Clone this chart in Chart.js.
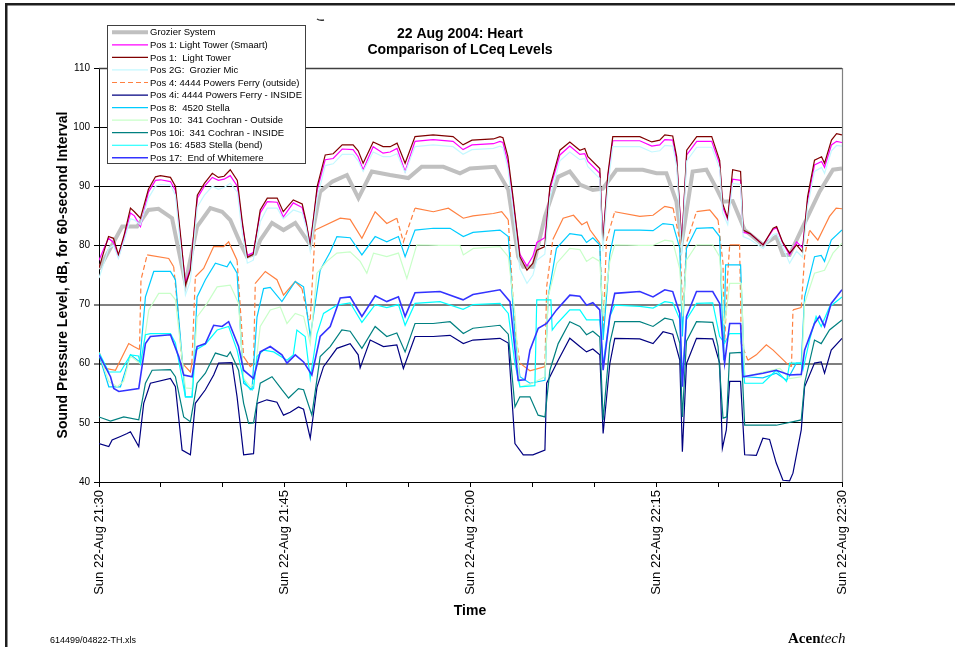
<!DOCTYPE html>
<html><head><meta charset="utf-8">
<script src="https://cdn.jsdelivr.net/npm/chart.js@4.4.0/dist/chart.umd.min.js"></script>
<style>html,body{margin:0;padding:0;background:#fff;}canvas{display:block;}</style>
</head><body>
<canvas id="c" width="955" height="647"></canvas>
<script>
// ---------- tick labels ----------
const xTickLabels = ['Sun 22-Aug 21:30','Sun 22-Aug 21:45','Sun 22-Aug 22:00','Sun 22-Aug 22:15','Sun 22-Aug 22:30'];
const yMin = 40, yMax = 110, yStep = 10;

// ---------- series names ----------
const seriesNames = [
  'Grozier System',
  'Pos 1: Light Tower (Smaart)',
  'Pos 1:  Light Tower',
  'Pos 2G:  Grozier Mic',
  'Pos 4: 4444 Powers Ferry (outside)',
  'Pos 4i: 4444 Powers Ferry - INSIDE',
  'Pos 8:  4520 Stella',
  'Pos 10:  341 Cochran - Outside',
  'Pos 10i:  341 Cochran - INSIDE',
  'Pos 16: 4583 Stella (bend)',
  'Pos 17:  End of Whitemere'
];

// ---------- data (time = minutes after 21:30, level = dB) ----------
const tGrozier = [0,1.87,3.08,3.99,4.8,5.9,6.98,7.92,8.99,9.94,10.6,11.41,11.95,12.62,13.02,13.97,14.9,15.85,17.06,17.86,18.85,20.02,20.95,22.03,23.51,24.98,26.06,27.81,29.15,29.96,31.98,33.05,33.85,34.26,35.06,36.01,37.08,38.02,38.83,39.88,40.69,41.79,43.91,45.02,45.82,46.63,47.06,47.94,49.05,49.85,50.39,51.17,52.14,53.61,54.69,55.23,55.77,56.71,58.19,59.27,60];
const vGrozier = [76,83.2,83.2,86,86.2,84.6,73.6,83.2,86.3,85.7,84.3,80.4,78.1,78.6,80.9,83.8,82.6,83.8,80.1,89.1,90.8,91.9,88,92.5,91.9,91.4,93.3,93.3,92.2,93,93.3,89.4,78.1,76.4,76.4,84.9,91.6,92.5,90.3,89.4,89.6,92.8,92.8,92.2,92.2,87.4,80.5,92.5,92.8,89.7,87.4,87.5,82.6,80.1,81.5,78.4,78.4,82.6,89.1,92.8,93];

const tTower = [0,0.4,0.77,1.17,1.57,2.06,2.54,2.86,3.35,3.99,4.56,4.96,5.77,6.17,6.57,6.98,7.38,7.94,8.51,9.15,9.64,10.1,10.6,11.17,11.57,11.98,12.46,13.02,13.59,14.39,14.88,15.69,16.41,16.73,17.06,17.62,18.27,18.91,19.64,20.52,20.93,21.33,22.14,22.94,23.51,24.07,24.72,25.52,26.98,28.59,29.4,30.12,31.85,32.38,32.62,33.02,33.43,33.99,34.56,35.04,35.36,36.0,36.41,37.22,38.02,38.83,39.23,39.48,40.44,40.69,41.09,41.49,43.67,44.64,45.28,45.69,46.33,46.65,47.06,47.46,48.27,49.48,50.12,50.36,50.77,51.17,51.81,52.02,52.58,53.63,54.44,54.72,55.2,55.77,56.33,56.81,57.22,57.78,58.35,58.59,59.15,59.56,60];
const vSmaart = [77.5,79.5,81.2,80.5,78, 81.5,85.5,85,83.2,89, 91,91.1,90.8,89.3,81.5, 73.8,76,88,90,91.5, 91,91.2,91.8,90,83.5, 78.3,78.8,85.5,87.4,87.3, 84.8,87.2,86.4,83.6,80.2, 89.4,94.5,94.7,96.3,96.2, 95,92.8,96.7,95.6,95.8, 96.4,92.5,97.6,97.9,97.6, 96.2,97,97.2,97.6,97.4, 94,87.5,78.5,76.5,78.2, 80.5,81.3,89.5,95.3,96.8, 95.4,95.5,94.2,92.2,80.6, 91.5,97.7,97.7,96.8,97, 97.9,97.8,94.3,80.3,95.3, 97.6,97.6,93.8,86.5,84.4, 91.2,91,82.2,82,80.1, 82.7,83,80.5,78.4,80.6, 79.6,87.5,93.6,94.2,93.2, 97,97.6,97.4];
const vTower = [76.2,79,81.5,81.2,78.4, 82,86.3,85.7,84.6,89.5, 91.6,91.8,91.5,90,82, 73.3,75.8,88.5,90.5,92.2, 91.5,91.7,92.8,91,84, 78,78.5,86,88,88, 85.7,87.7,87,84,79.8, 90,95.3,95.5,97,97, 96,93.9,97.5,96.7,96.7, 97.3,93.9,98.4,98.7,98.4, 97,97.8,98,98.4,98.2, 95,88.2,78.1,75.8,77, 79.2,79.8,89.9,96.1,97.5, 96.1,96.4,95,93,80.4, 92,98.4,98.4,97.5,97.8, 98.7,98.5,95,79.8,96.1, 98.4,98.4,94.4,87.1,84.6, 92.8,92.5,82.6,82,80.1, 82.9,83.2,80.6,78.7,80.1, 78.9,88.2,94.4,95,93.9, 97.8,98.9,98.7];
const vGrozierMic = [74.5,77,79.5,80,77.8, 81,84.5,84.3,83.5,88, 90,90.3,90.2,88.5,80, 71.6,74,86.5,88.5,90, 89.5,89.8,90.5,89,82, 77,77.5,84,86.3,86.3, 84.5,86,85.5,83,79, 88,93.5,93.8,95.4,95.4, 94.3,92.5,95.8,95,95, 95.5,92.3,96.7,97,96.7, 95.4,96.2,96.4,96.8,96.5, 93,86,76,73.6,75, 77.5,78.5,88,94.3,95.8, 94.5,94.7,93.3,91.3,79, 90,96.7,96.7,95.8,96, 96.9,96.8,93.3,78.5,94.3, 96.6,96.6,93,85.5,83.5, 90.5,90.3,81.5,81,79.5, 81.8,82,79.8,77,79, 78,86.5,92.5,93.2,92.2, 96,96.9,96.8];

const tPos4 = [0,0.52,1.33,2.4,2.81,3.27,3.39,3.89,5.63,6.03,6.33,6.71,7.38,7.5,7.78,8.45,9.26,10.06,10.47,11.15,11.68,12.22,12.48,12.62,13.43,14.37,14.9,15.85,16.39,16.92,17.06,17.46,19.48,20.28,21.23,22.3,23.24,24.05,24.58,25.52,27,28.21,29.42,30.2,31.84,32.52,33.05,33.59,33.99,34.8,36.01,36.15,36.65,37.48,38.32,38.99,39.4,39.66,40.44,40.71,40.98,41.65,43.67,44.74,45.69,46.36,46.9,47.16,47.44,48.25,49.32,49.99,50.39,50.52,50.77,50.93,51.73,51.87,52.4,53.08,53.89,54.44,54.98,55.52,55.92,56.04,56.71,56.98,57.38,58.05,58.59,58.99,59.53,60];
const vPos4 = [62,59.2,58.9,63.4,62.9,62.4,74.2,78.4,77.8,76.4,70,60.1,58.6,60,74.7,76.1,79.8,79.8,80.6,77.5,61.2,59.5,60,73.6,75.6,74.2,71.6,73.9,72.7,67.4,67.5,82.6,84.6,84.4,81.2,85.7,83.7,84.6,80.6,86.3,85.7,86.3,84.6,85,85.4,85.7,84.3,65.7,60.1,58.8,59.5,73,81,84.6,85.1,83.5,84,82.6,80.4,65.7,80.9,85.7,84.9,85.1,86.6,86.3,80.9,68,80.4,85.7,86,84.3,77,63.4,75,80.1,80.1,63.4,60.6,61.5,63.2,62.3,61.2,60.1,59.5,69.1,69.5,78.1,82.6,80.9,83.2,84.9,86.3,86.2];

const tPos4i = [0,0.79,1.06,1.73,2.27,2.54,3.21,3.61,4.15,5.77,6.17,6.71,7.38,7.78,8.59,9.26,9.66,10.74,11.15,11.68,12.48,12.76,13.56,14.37,14.9,15.44,16.11,16.52,17.06,17.6,18.13,19.21,20.28,20.93,21.09,21.9,22.97,24.05,24.58,25.52,26.98,28.35,29.42,30.2,32.38,33.05,33.59,34.26,35.04,36.01,36.15,37.08,38.02,38.83,39.37,39.88,40.44,40.71,41.25,41.65,43.67,44.74,45.55,46.33,46.9,47.11,47.44,48.25,49.56,50.12,50.34,50.66,50.93,51.81,52.14,53.08,53.61,54.15,54.69,55.23,55.77,56.04,56.71,56.98,57.78,58.32,58.59,59.13,60];
const vPos4i = [46.5,46,47.1,47.7,48.2,48.5,46,53.3,56.7,57.5,56.1,45.4,44.6,53.3,55.6,58.1,60.1,60.2,54.4,44.6,44.8,53.3,53.9,53.5,51.3,51.8,52.7,52.3,47.4,56,59.5,62.6,63.4,61.5,59.3,64,62.9,63.2,59.2,64.6,64.6,64.8,63.4,64,64.3,63.5,46.5,44.6,44.6,45.4,56.7,60.6,64.3,62.9,62,62.5,61.5,48.2,60,64.3,64.2,63.4,65.4,65,60.6,45.1,60,64.3,64.2,60.1,45.7,48.8,57,57,44.6,44.5,47.4,47.2,43.2,40.3,40.2,41.5,48.8,56.1,60.1,60.3,58.4,62.3,64.3];

const tPos8 = [0,0.79,1.73,2.54,3.29,3.75,4.42,5.77,6.17,6.98,7.52,7.92,8.59,9.4,10.34,10.6,11.15,11.68,12.35,12.76,13.29,13.83,14.77,15.85,16.52,17.06,17.86,18.67,19.21,20.28,21.23,22.3,23.24,24.18,24.72,25.52,27,28.35,29.42,30.2,32.38,33.05,33.59,33.99,34.8,36.01,36.27,36.94,38.02,38.97,39.37,39.88,40.44,40.71,41.25,41.65,43.67,44.74,45.54,46.36,46.9,47.11,47.44,48.25,49.56,50.12,50.44,50.6,51.81,52.14,53.61,54.69,55.52,55.78,56.31,56.71,56.98,57.78,58.32,58.59,59.13,60];
const vPos8 = [61.5,56.1,56.1,61.5,60.3,71.3,75.6,75.6,74.2,54.4,54.4,71.3,74.2,77,76.4,77.3,75.3,56.7,55.6,67.9,72.7,72.9,70.5,73.9,73,64.6,75.8,78.9,81.5,81.3,78.4,81.5,80.6,81.5,78.1,82.6,82.9,82.9,81.5,82.2,82.6,81.5,64.6,57.8,56.7,57.2,71.3,79.5,82,81.7,80.5,81.3,80.1,64,78.5,82.6,82.6,82.5,83.7,83.5,79.5,64.6,79.5,82.9,83,81.5,60.6,76.7,76.7,57.8,57.6,58.4,57.2,58,60.1,60.1,71.3,78.1,78.3,77.3,80.9,82.6];

const tPos10 = [0,0.79,1.47,1.98,2.54,3.29,3.39,4.02,4.82,5.77,6.17,6.98,7.52,7.92,8.73,9.54,10.6,11.27,11.68,12.22,12.48,13.02,13.83,14.64,15.18,15.85,16.52,17.06,17.6,18.4,19.21,20.28,21.09,21.63,22.17,23.24,24.18,24.86,25.66,27.54,29.15,29.42,30.23,32.38,33.05,33.59,33.99,34.8,36.01,36.27,36.97,38.02,38.83,39.37,39.88,40.44,40.71,41.25,41.65,43.67,44.72,45.69,46.33,46.9,47.14,47.44,48.25,49.56,50.12,50.52,50.93,51.87,52.14,53.61,54.98,55.78,56.71,56.98,57.78,58.59,59.27,60];
const vPos10 = [61.7,57,56.1,57,61.3,60.1,60,69.1,71.9,71.9,70.8,55.9,55.8,67.9,70.2,73,73.3,70.2,57.5,56.1,56.5,66.3,69.1,69.6,66.8,68.5,68,63.4,75.3,77.3,78.7,78.9,77.3,75.3,78.7,78.1,78.7,74.4,80.1,80,80,78.4,79.5,79.8,78.1,68.5,56.1,56.5,57.8,71.3,77,79.5,79.3,77.3,78,77.3,68,77.3,80.1,80,80,80.9,80.7,76,68,77.5,80.1,80.1,78.1,66.5,73.6,73.6,57.8,58.6,59.2,57.5,57.8,70.2,75.3,75.8,78.7,80.4];

const tPos10i = [0,0.93,2,3.21,3.75,4.29,5.77,6.17,6.84,7.38,7.92,8.59,9.4,10.34,10.6,11.27,11.68,12.08,12.48,13.02,13.97,14.77,15.31,16.11,16.52,17.19,17.86,18.67,19.61,20.28,21.23,22.3,23.24,24.05,24.72,25.52,26.98,28.35,29.42,30.2,32.38,33.05,33.59,33.99,34.8,35.46,36.01,36.41,37.08,38.02,38.83,39.37,39.88,40.44,40.71,41.25,41.65,43.67,44.74,45.69,46.33,46.9,47.11,47.44,48.25,49.56,49.99,50.39,50.69,50.93,51.87,52.14,54.69,56.71,56.98,57.78,58.32,58.99,60];
const vPos10i = [51,50.3,51,50.5,56.7,58.9,59,57.8,51,50.2,56.7,58.4,61.8,61.2,62,58.9,53.3,49.9,50,56.7,57.8,55.6,54.2,55.8,55.6,51.3,61.2,62.9,65.7,65.5,62.6,66.3,64.6,65.2,62,66.8,66.8,67.1,65.1,66,66.5,65,52.7,54.4,54.4,51.3,51,58.9,63.4,67.1,66.3,64.9,65.5,64.5,50.5,63.5,67.1,67.1,66.3,67.7,67.4,63.5,51,63.8,67.1,67,62.9,50.8,51,61.8,61.9,49.6,49.6,50.5,56.7,64,63.4,65.7,67.4];

const tPos16 = [0,0.79,1.73,2.54,3.19,3.35,3.75,4.15,5.77,6.17,6.98,7.52,7.78,8.59,9.54,10.47,11.15,11.68,12.22,12.48,12.76,13.29,14.1,15.18,15.69,15.98,16.65,17.06,17.6,18.13,19.21,20.28,21.23,22.3,23.24,24.18,24.72,25.52,27.54,29.4,30.2,32.38,33.05,33.59,33.99,35.2,35.35,36.49,36.6,37.0,38.02,38.83,39.37,40.44,40.71,41.25,41.65,43.67,44.74,45.69,46.33,46.9,47.11,47.44,48.25,49.56,50.12,50.52,50.93,51.81,52.14,53.61,54.69,55.52,55.78,56.71,56.85,57.38,57.91,58.32,58.99,60];
const vPos16 = [61.9,58.6,58.6,61.5,61.3,60,64.9,65.1,65.1,63.5,54.4,54.4,62.3,63.3,65.7,66.3,62.3,57.2,55.6,55.8,61.2,62.3,62,60.6,61.5,65.7,64.6,57.5,65,68.5,69.9,70.3,67,70,69.5,70,66.5,70.2,70.5,69.2,70,70.2,68.5,60,56.1,56.3,70.8,70.8,65.7,66.8,69.1,69.1,67.4,67.4,60,68,69.9,69.7,69.4,70.5,70.3,67.5,57.8,67.5,70.2,70.3,64.6,63.5,65.1,65.1,56.7,56.7,58.9,57,60.1,60.1,59,64,68,66.3,69.6,71.3];

const tPos17 = [0,0.93,1.19,1.6,3.21,3.75,4.15,5.77,6.44,6.84,7.52,7.92,8.59,9.26,9.94,10.47,11.27,11.68,12.48,13.02,13.83,14.77,15.18,15.85,16.52,17.19,17.86,18.67,19.48,20.28,21.23,22.3,23.24,24.18,24.72,25.52,27.54,29.4,30.2,32.38,33.19,33.85,34.4,34.8,35.47,36.15,36.95,38.02,38.83,39.37,39.88,40.44,40.71,41.25,41.65,43.67,44.74,45.69,46.33,46.9,47.11,47.44,48.25,49.56,50.12,50.52,50.93,51.81,52,53.61,54.69,55.77,56.71,56.98,57.78,58.19,58.59,59.13,60];
const vPos17 = [61.5,57.8,55.8,55.3,55.8,63.4,64.6,64.9,61.2,58.1,57.8,62.9,63.4,66.5,66.3,67.1,62.9,58.9,57.5,62,62.9,61.5,60.1,61.5,60.3,58.1,64.6,66.3,71.1,71.3,68,71.5,70.5,71.3,68,72,72.2,70.8,71.7,72.5,70.5,57.2,57.3,62.3,66,66.8,69.1,71.6,71.4,69.9,70.3,69.1,58.9,68,71.9,72.2,71.3,72.5,72.2,68.5,56.1,68,72.2,72.2,70.2,60.1,66.8,66.8,57.8,58.4,58.9,58.1,58.2,62.3,66.8,68,66.3,70.2,72.5];

// ---------- styles ----------
const styles = [
  {color:'#c0c0c0', w:4},
  {color:'#ff00ff', w:1.2},
  {color:'#800000', w:1.2},
  {color:'#c4f8ff', w:1.2},
  {color:'#ff8040', w:1.2, dash:[5,3]},
  {color:'#000080', w:1.2},
  {color:'#00ccff', w:1.2},
  {color:'#c8ffc8', w:1.2},
  {color:'#008080', w:1.2},
  {color:'#00ffff', w:1.2},
  {color:'#3333ff', w:1.6}
];
const seriesT = [tGrozier,tTower,tTower,tTower,tPos4,tPos4i,tPos8,tPos10,tPos10i,tPos16,tPos17];
const seriesV = [vGrozier,vSmaart,vTower,vGrozierMic,vPos4,vPos4i,vPos8,vPos10,vPos10i,vPos16,vPos17];

function pts(t, v){ return t.map((x,i)=>({x:x, y:v[i]})); }

// dashed only on steep jumps (the original's dense data makes gentle parts look solid)
function steepDash(dash){
  return (ctx) => {
    const dx = Math.abs(ctx.p1.x - ctx.p0.x), dy = Math.abs(ctx.p1.y - ctx.p0.y);
    return (dy > 12 && dy > 2.5*dx) ? dash : [];
  };
}

const FONT = "'Liberation Sans', Arial, Helvetica, sans-serif";
Chart.defaults.font.family = FONT;

const decor = {
  id:'decor',
  afterDraw(chart){
    const c = chart.ctx, a = chart.chartArea;
    c.save();
    // page frame
    c.fillStyle = '#1e1e1e';
    c.fillRect(5, 3, 950, 2.5);
    c.fillRect(5, 3, 2.5, 644);
    // plot frame top/right
    c.strokeStyle = '#404040'; c.lineWidth = 1.5;
    c.beginPath(); c.moveTo(a.left, a.top+0.5); c.lineTo(a.right, a.top+0.5); c.stroke();
    c.strokeStyle = '#808080'; c.lineWidth = 1.2;
    c.beginPath(); c.moveTo(a.right+0.5, a.top); c.lineTo(a.right+0.5, a.bottom); c.stroke();
    // small mark near title
    c.strokeStyle = '#333'; c.lineWidth = 1.5;
    c.beginPath(); c.moveTo(317,19); c.quadraticCurveTo(320,21,324,20); c.stroke();
    // titles
    c.fillStyle = '#000';
    c.textAlign = 'center'; c.textBaseline = 'alphabetic';
    c.font = 'bold 14px ' + FONT;
    c.fillText('22 Aug 2004: Heart', 460, 38);
    c.fillText('Comparison of LCeq Levels', 460, 54);
    c.fillText('Time', 470, 615);
    c.save();
    c.translate(67, 275); c.rotate(-Math.PI/2);
    c.fillText('Sound Pressure Level, dB, for 60-second Interval', 0, 0);
    c.restore();
    // footer
    c.textAlign = 'left';
    c.font = '9px ' + FONT;
    c.fillText('614499/04822-TH.xls', 50, 643);
    c.font = "bold 15px 'Liberation Serif', 'Times New Roman', serif";
    c.fillText('Acen', 788, 643);
    const wA = c.measureText('Acen').width;
    c.font = "italic 15px 'Liberation Serif', 'Times New Roman', serif";
    c.fillText('tech', 788 + wA, 643);
    // legend
    const lx = 107, ly = 25, lw = 198, lh = 138;
    c.fillStyle = '#fff'; c.fillRect(lx, ly, lw, lh);
    c.strokeStyle = '#404040'; c.lineWidth = 1;
    c.strokeRect(lx+0.5, ly+0.5, lw, lh);
    c.font = '9.5px ' + FONT; c.textBaseline = 'middle'; c.fillStyle = '#000';
    seriesNames.forEach((name, i) => {
      const y = 32.3 + i*12.55;
      const s = styles[i];
      c.strokeStyle = s.color; c.lineWidth = s.w; c.setLineDash(s.dash || []);
      c.beginPath(); c.moveTo(112, y); c.lineTo(148, y); c.stroke();
      c.setLineDash([]);
      c.fillText(name, 150, y + 0.5);
    });
    c.restore();
  }
};

new Chart(document.getElementById('c').getContext('2d'), {
  type:'line',
  data:{
    datasets: seriesNames.map((name,i)=>{
      const ds = {
        label:name,
        data: pts(seriesT[i], seriesV[i]),
        borderColor: styles[i].color,
        borderWidth: styles[i].w,
        pointRadius:0,
        tension:0,
        fill:false,
        order: 20 - i
      };
      if (styles[i].dash) ds.segment = { borderDash: steepDash(styles[i].dash) };
      return ds;
    })
  },
  options:{
    responsive:false, animation:false, devicePixelRatio:1,
    layout:{padding:{left:0, top:68, right:113, bottom:0}},
    plugins:{legend:{display:false}, title:{display:false}, tooltip:{enabled:false}},
    scales:{
      x:{
        type:'linear', min:0, max:60,
        afterFit(s){ s.height = 165; },
        ticks:{stepSize:5, autoSkip:false, minRotation:90, maxRotation:90, padding:3, color:'#000',
          font:{size:13},
          callback:(v)=> (v % 15 === 0 ? xTickLabels[v/15] : '')},
        grid:{drawOnChartArea:false, drawTicks:true, tickLength:5, color:'#000'},
        border:{color:'#000', width:1}
      },
      y:{
        min:yMin, max:yMax,
        afterFit(s){ s.width = 99; },
        ticks:{stepSize:yStep, padding:4, color:'#000', font:{size:10}},
        grid:{
          color:(ctx)=>{ const v = ctx.tick && ctx.tick.value; return (v===60||v===70) ? '#7f7f7f' : '#000'; },
          lineWidth:(ctx)=>{ const v = ctx.tick && ctx.tick.value; return (v===60||v===70) ? 2 : 1; },
          tickLength:5, tickColor:'#000', tickWidth:1
        },
        border:{color:'#000', width:1}
      }
    }
  },
  plugins:[decor]
});
</script>
</body></html>
